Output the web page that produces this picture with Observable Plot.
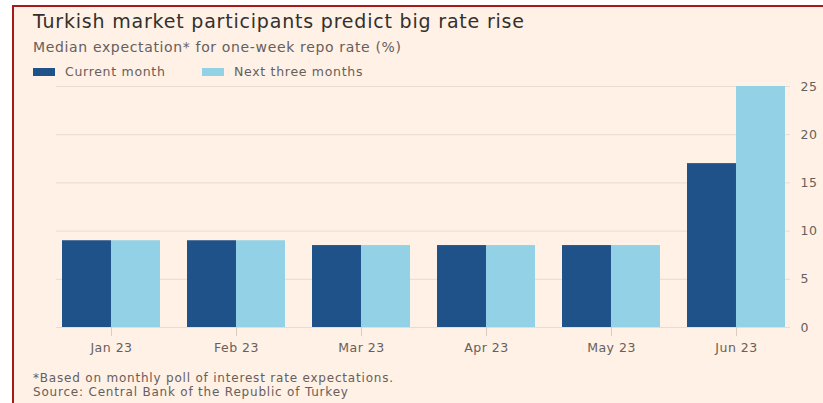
<!DOCTYPE html>
<html>
<head>
<meta charset="utf-8">
<script src="https://cdn.jsdelivr.net/npm/d3@7"></script>
<script src="https://cdn.jsdelivr.net/npm/@observablehq/plot@0.6"></script>
<style>
  html, body { margin: 0; padding: 0; background: #ffffff; width: 823px; height: 403px; overflow: hidden; }
  body { position: relative; font-family: "DejaVu Sans", "Open Sans", sans-serif; }
  #frame { position: absolute; left: 12px; top: 5px; width: 830px; height: 420px;
           background: #fff1e5; border-left: 2px solid #a8191c; border-top: 2px solid #a8191c; }
  .abs { position: absolute; white-space: nowrap; }
  #title { left: 33px; top: 8px; font-size: 19px; letter-spacing: 0.8px; line-height: 26px; color: #33302e; }
  #subtitle { left: 33px; top: 38px; font-size: 14px; letter-spacing: 0.65px; line-height: 18px; color: #66605c; }
  #legend { left: 33px; top: 63px; font-size: 12.5px; letter-spacing: 0.7px; line-height: 18px; color: #66605c; display: flex; align-items: center; }
  .sw { display: inline-block; width: 22px; height: 8px; margin-right: 10px; flex: none; }
  .item { display: flex; align-items: center; }
  .item:first-child { width: 169px; }
  #chart { left: 0; top: 78px; }
  #chart svg text { letter-spacing: 0.5px; }
  #note { left: 33px; top: 371px; font-size: 12px; letter-spacing: 0.8px; line-height: 14px; color: #66605c; }
</style>
</head>
<body>
<div id="frame"></div>
<div id="title" class="abs">Turkish market participants predict big rate rise</div>
<div id="subtitle" class="abs">Median expectation* for one-week repo rate (%)</div>
<div id="legend" class="abs"></div>
<div id="chart" class="abs"></div>
<div id="note" class="abs">*Based on monthly poll of interest rate expectations.<br>Source: Central Bank of the Republic of Turkey</div>
<script>
const months = ["Jan 23", "Feb 23", "Mar 23", "Apr 23", "May 23", "Jun 23"];
const currentMonth = [9, 9, 8.5, 8.5, 8.5, 17];
const nextThreeMonths = [9, 9, 8.5, 8.5, 8.5, 25];
const seriesNames = ["Current month", "Next three months"];
const seriesColors = ["#1f5289", "#93d1e6"];
const yTicks = [0, 5, 10, 15, 20, 25];

const rows = months.flatMap((m, i) => [
  {month: m, series: seriesNames[0], value: currentMonth[i]},
  {month: m, series: seriesNames[1], value: nextThreeMonths[i]}
]);

// legend
const legend = document.getElementById("legend");
seriesNames.forEach((s, i) => {
  const it = document.createElement("span");
  it.className = "item";
  it.innerHTML = `<span class="sw" style="background:${seriesColors[i]}"></span>${s}`;
  legend.appendChild(it);
});

const width = 823, marginLeft = 56, marginRight = 33;
const pInner = 0.22, pOuter = 0.03;
const step = (width - marginLeft - marginRight) / (months.length - pInner + 2 * pOuter);
const half = step * (1 - pInner) / 2;

const chart = Plot.plot({
  width,
  height: 280,
  marginLeft, marginRight,
  marginTop: 8,
  marginBottom: 31,
  style: {background: "transparent", fontFamily: "'DejaVu Sans', 'Open Sans', sans-serif", fontSize: "12.5px", color: "#66605c"},
  x: {type: "band", domain: months, paddingInner: pInner, paddingOuter: pOuter, label: null},
  y: {domain: [0, 25], label: null},
  color: {domain: seriesNames, range: seriesColors},
  marks: [
    Plot.gridY(yTicks, {stroke: "#e8dcd1", strokeOpacity: 1}),
    Plot.barY(rows.filter(d => d.series === seriesNames[0]), {x: "month", y: "value", fill: "series", insetRight: half}),
    Plot.barY(rows.filter(d => d.series === seriesNames[1]), {x: "month", y: "value", fill: "series", insetLeft: half}),
    Plot.axisY(yTicks, {anchor: "right", tickSize: 0, tickPadding: 10, fill: "#66605c", label: null}),
    Plot.axisX({tickSize: 9, tickPadding: 7, stroke: "#d9cdc2", fill: "#66605c", label: null})
  ]
});
document.getElementById("chart").appendChild(chart);
</script>
</body>
</html>
